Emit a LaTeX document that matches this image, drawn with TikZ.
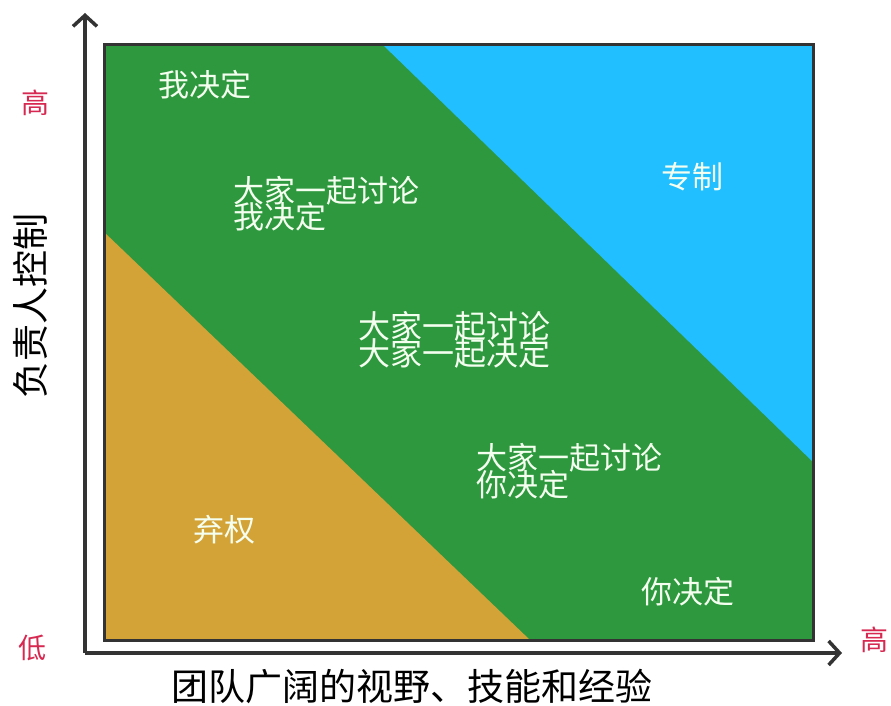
\documentclass[tikz,border=0pt]{standalone}
\usepackage{fontspec}
\newfontfamily\cjk{Noto Sans CJK SC}
\usetikzlibrary{arrows.meta}
\definecolor{zgreen}{RGB}{45,152,62}
\definecolor{zblue}{RGB}{33,191,255}
\definecolor{zorange}{RGB}{212,163,55}
\definecolor{zred}{RGB}{214,40,80}
\definecolor{zdark}{RGB}{51,51,51}
\definecolor{ztext}{RGB}{245,255,240}
\tikzset{
  inlabel/.style={font=\cjk\fontsize{31}{31}\selectfont, text=ztext, inner sep=0pt},
  biglabel/.style={font=\cjk\fontsize{32}{32}\selectfont, text=ztext, inner sep=0pt},
  axlabel/.style={font=\cjk\fontsize{37}{37}\selectfont, text=black, inner sep=0pt},
  ticklabel/.style={font=\cjk\fontsize{28}{28}\selectfont, text=zred, inner sep=0pt},
  axisline/.style={draw=zdark, line width=3.5pt, -{Straight Barb[length=11pt, width=24pt, line width=3.5pt]}}
}
\begin{document}
\begin{tikzpicture}[x=1pt,y=-1pt]
\useasboundingbox (0,0) rectangle (891,706);
% regions
\fill[zgreen] (104,45) rectangle (813,640);
\fill[zblue] (383,45) -- (813,45) -- (813,462) -- cycle;
\fill[zorange] (104,232) -- (104,640) -- (530,640) -- cycle;
\draw[zdark, line width=3pt] (104,45) rectangle (813,640);
% axes
\coordinate (o) at (85,653);
\coordinate (ytip) at (85,13);
\coordinate (xtip) at (842,653);
\draw[axisline] (o) -- (ytip);
\draw[axisline] (o) -- (xtip);
% tick labels
\node[ticklabel] (yhigh) at (35,103) {高};
\node[ticklabel] (low) at (32,648) {低};
\node[ticklabel] (xhigh) at (874,640) {高};
% axis titles
\node[axlabel, rotate=90] (ytitle) at (30,306) {负责人控制};
\node[axlabel] (xtitle) at (412,686) {团队广阔的视野、技能和经验};
% inner labels
\node[inlabel] (a) at (205,85) {我决定};
\node[inlabel, anchor=west] (b1) at (233,191) {大家一起讨论};
\node[inlabel, anchor=west] (b2) at (233,217) {我决定};
\node[biglabel] (c1) at (454,326) {大家一起讨论};
\node[biglabel] (c2) at (454,353) {大家一起决定};
\node[inlabel, anchor=west] (d1) at (476,458) {大家一起讨论};
\node[inlabel, anchor=west] (d2) at (476,485) {你决定};
\node[inlabel] (e) at (692,177) {专制};
\node[inlabel] (f) at (224,530) {弃权};
\node[inlabel] (g) at (688,592) {你决定};
\end{tikzpicture}
\end{document}
